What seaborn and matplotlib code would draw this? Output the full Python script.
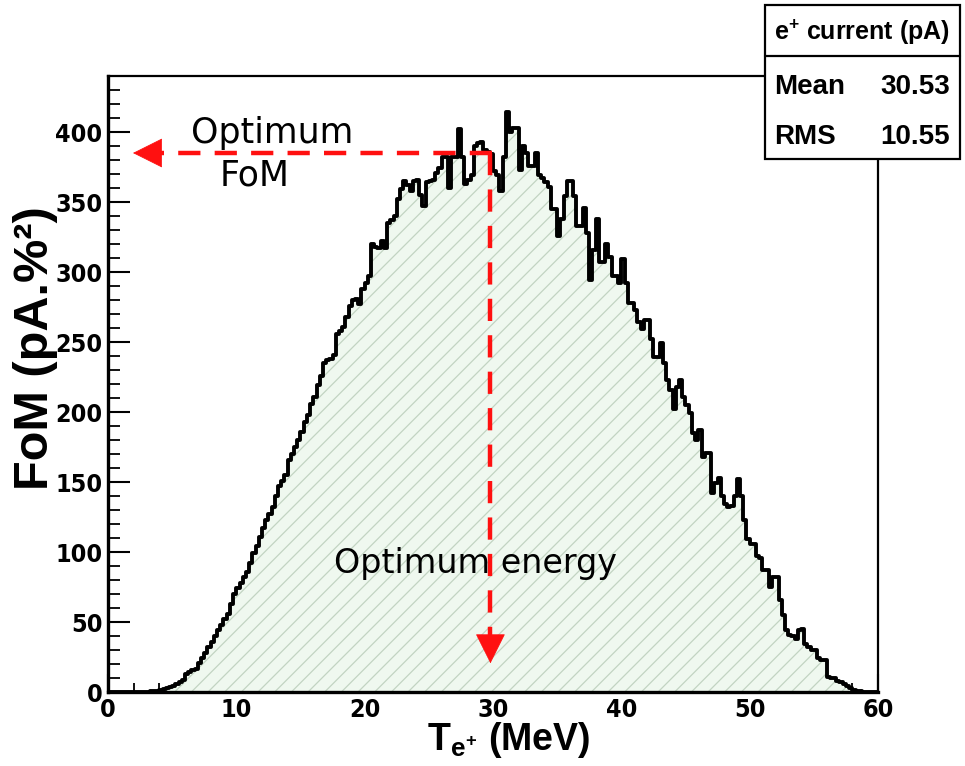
import numpy as np
import pandas as pd
import matplotlib
matplotlib.use("Agg")
import matplotlib.pyplot as plt
import seaborn as sns
from matplotlib.patches import Rectangle
from matplotlib.lines import Line2D
from matplotlib.ticker import MultipleLocator

# ---------------- data ----------------
bin_width = 0.25  # MeV
x_range = (0, 60)
fom_values = [
    0, 0, 0, 0,
    0, 0, 0, 0,
    0, 0, 0, 0,
    0.2, 0.4, 0.6, 1.0,
    1.5, 2.2, 3.0, 3.5,
    4.5, 5.5, 7, 8.5,
    13, 14, 15.5, 16.5,
    21, 24, 28, 32,
    36, 40, 44, 48,
    52, 56, 63, 70,
    74, 78, 82, 86,
    92, 99, 104, 111,
    117, 123, 127, 132,
    140, 147, 151, 155,
    166, 170, 175, 180,
    186, 193, 198, 206,
    211, 219, 226, 235,
    237, 238, 241, 256,
    258, 261, 268, 276,
    280, 281, 277, 288,
    292, 297, 320, 318,
    317, 322, 317, 335,
    337, 340, 352, 359,
    365, 362, 358, 365,
    366, 355, 347, 364,
    365, 366, 371, 374,
    382, 382, 360, 382,
    382, 402, 382, 363,
    366, 369, 390, 392,
    393, 387, 386, 384,
    372, 369, 358, 382,
    414, 400, 403, 403,
    373, 390, 385, 376,
    376, 385, 369, 367,
    364, 361, 345, 345,
    326, 338, 354, 365,
    365, 354, 333, 333,
    346, 328, 294, 316,
    338, 307, 307, 320,
    311, 297, 297, 292,
    309, 292, 278, 278,
    273, 264, 259, 266,
    266, 252, 239, 239,
    249, 235, 223, 216,
    202, 218, 223, 211,
    205, 199, 185, 180,
    187, 168, 171, 171,
    142, 149, 153, 140,
    134, 132, 133, 140,
    152, 140, 123, 109,
    106, 106, 97, 96,
    87, 87, 75, 82,
    82, 66, 55, 44,
    41, 40, 38, 44,
    45, 34, 32, 30,
    30, 24, 23, 23,
    11, 10, 10, 8,
    7, 6, 4, 3,
    1.5, 1, 0.5, 0,
    0, 0, 0, 0,
]
x_ticks = [0, 10, 20, 30, 40, 50, 60]
y_ticks = [0, 50, 100, 150, 200, 250, 300, 350, 400]
stats_title = r"e$^{+}$ current (pA)"
stats_names = ["Mean", "RMS"]
stats_values = ["30.53", "10.55"]
opt_fom = 385
opt_energy = 29.8

centers = x_range[0] + bin_width / 2 + bin_width * np.arange(len(fom_values))
df = pd.DataFrame({"energy": centers, "fom": fom_values})

# ---------------- style ----------------
sns.set_style("ticks")
plt.rcParams["font.family"] = ["Liberation Sans", "DejaVu Sans"]
plt.rcParams["text.color"] = "black"
plt.rcParams["axes.labelcolor"] = "black"
plt.rcParams["xtick.color"] = "black"
plt.rcParams["ytick.color"] = "black"
plt.rcParams["axes.edgecolor"] = "black"
plt.rcParams["mathtext.fontset"] = "custom"
plt.rcParams["mathtext.rm"] = "Liberation Sans:bold"
plt.rcParams["mathtext.it"] = "Liberation Sans:bold"
plt.rcParams["mathtext.bf"] = "Liberation Sans:bold"
plt.rcParams["hatch.color"] = "#c2d4c2"
plt.rcParams["hatch.linewidth"] = 0.9

W, H = 965, 766
fig = plt.figure(figsize=(W / 100, H / 100), dpi=100)
ax = fig.add_axes([108 / W, 74 / H, 770 / W, 616 / H])

hist_kws = dict(data=df, x="energy", weights="fom", binwidth=bin_width,
                binrange=x_range, element="step", ax=ax)
# filled hatched histogram
sns.histplot(fill=True, color="#eff8ef", alpha=1, linewidth=0, **hist_kws)
for coll in ax.collections:
    coll.set_facecolor("#eff8ef")
    coll.set_edgecolor("#c2d4c2")
    coll.set_hatch("//")
    coll.set_linewidth(0)
# outline
sns.histplot(fill=False, color="black", linewidth=2.8, **hist_kws)

ax.set_xlim(*x_range)
ax.set_ylim(0, 440)
ax.set_xticks(x_ticks)
ax.set_yticks(y_ticks)
ax.xaxis.set_minor_locator(MultipleLocator(2))
ax.yaxis.set_minor_locator(MultipleLocator(10))
ax.tick_params(axis="y", which="major", direction="in", length=16, width=1.5, pad=4)
ax.tick_params(axis="y", which="minor", direction="in", length=8.5, width=1.3)
ax.tick_params(axis="x", which="major", direction="in", length=13, width=1.5, pad=4)
ax.tick_params(axis="x", which="minor", direction="in", length=6.5, width=1.3)
for lab in ax.get_xticklabels() + ax.get_yticklabels():
    lab.set_family(["DejaVu Sans"])
    lab.set_fontstretch("condensed")
    lab.set_fontweight("bold")
    lab.set_fontsize(18)
for side in ["left", "bottom"]:
    ax.spines[side].set_linewidth(2.4)
for side in ["top", "right"]:
    ax.spines[side].set_linewidth(1.6)

ax.set_ylabel("FoM (pA.%²)", fontsize=35, fontweight="bold")
ax.yaxis.set_label_coords((58 - 108) / 770, (692 - 348) / 616)
ax.set_xlabel(r"$\mathrm{T}_{\mathrm{e^{+}}}$ (MeV)", fontsize=27, fontweight="bold")
ax.xaxis.set_label_coords((509 - 108) / 770, -(720 - 692) / 616)

# red dashed arrows
red = "#ff1010"
ax.plot([opt_energy + 0.1, 4.0], [opt_fom, opt_fom], color=red, lw=3.2,
        ls=(0, (5, 3.2)), dash_capstyle="butt", zorder=4)
ax.plot([opt_energy, opt_energy], [opt_fom, 38], color=red, lw=3.2,
        ls=(0, (5, 3.2)), dash_capstyle="butt", zorder=4)
head = dict(arrowstyle="-|>,head_length=0.8,head_width=0.4", color=red, lw=0.5,
            shrinkA=0, shrinkB=0, mutation_scale=25)
ax.annotate("", xy=(1.95, opt_fom), xytext=(4.2, opt_fom), arrowprops=head, zorder=5)
ax.annotate("", xy=(opt_energy, 20.5), xytext=(opt_energy, 40), arrowprops=head, zorder=5)

# annotation texts
def ftxt(x, y, s, **kw):
    fig.text(x / W, 1 - y / H, s, **kw)

ftxt(272, 133, "Optimum", fontsize=25, family="DejaVu Sans", ha="center", va="center")
ftxt(255, 175, "FoM", fontsize=25, family="DejaVu Sans", ha="center", va="center")
ftxt(475, 563, "Optimum energy", fontsize=24, family="DejaVu Sans", ha="center", va="center")

# stats box
fig.add_artist(Rectangle((765 / W, 1 - 159 / H), 195 / W, 154 / H, transform=fig.transFigure,
                         facecolor="white", edgecolor="black", lw=1.6, zorder=5))
fig.add_artist(Line2D([765 / W, 960 / W], [1 - 56 / H, 1 - 56 / H], transform=fig.transFigure,
                      color="black", lw=1.6, zorder=6))
ftxt(862, 32, stats_title, fontsize=18, fontweight="bold", ha="center", va="center", zorder=7)
for i, (n, v) in enumerate(zip(stats_names, stats_values)):
    yy = 87 + i * 50
    ftxt(774, yy, n, fontsize=20, fontweight="bold", ha="left", va="center", zorder=7)
    ftxt(950, yy, v, fontsize=20, fontweight="bold", ha="right", va="center", zorder=7)

fig.savefig("out.png", dpi=100)
